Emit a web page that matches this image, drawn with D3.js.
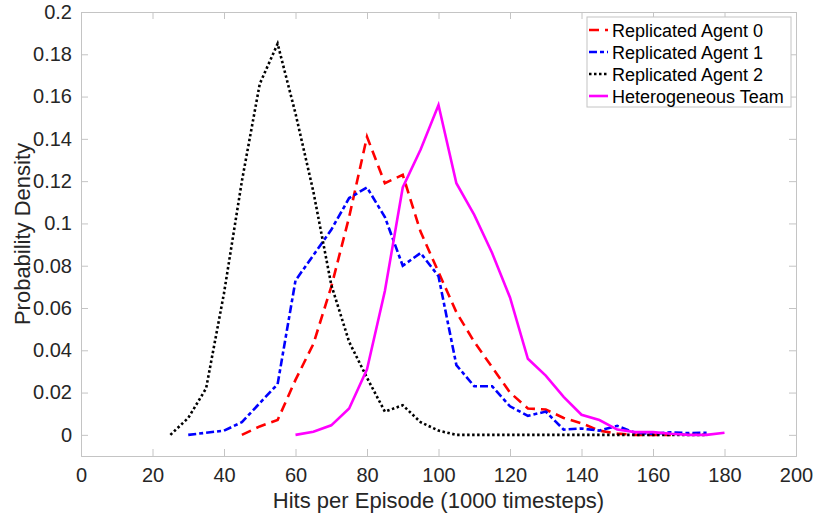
<!DOCTYPE html>
<html lang="en">
<head>
<meta charset="UTF-8">
<title>Hits per Episode</title>
<script src="https://d3js.org/d3.v7.min.js"></script>
<style>
    body { margin: 0; background: #fff; font-family: "Liberation Sans", Arial, sans-serif; }
    .line { fill: none; stroke-width: 2.6px; stroke-linejoin: miter; }
</style>
</head>
<body>
<div id="chart"></div>
<script>
// Hits per episode (x) and probability density (y) for each run
const agent0X = [45, 50, 55, 60, 65, 70, 75, 80, 85, 90, 95, 100, 105, 110, 115, 120, 125, 130, 135, 140, 145, 150, 155, 160, 165];
const agent0Y = [0, 0.004, 0.007, 0.026, 0.043, 0.07, 0.103, 0.141, 0.119, 0.123, 0.096, 0.077, 0.058, 0.044, 0.032, 0.02, 0.0125, 0.012, 0.008, 0.0055, 0.002, 0.0006, 0, 0, 0];

const agent1X = [30, 35, 40, 45, 50, 55, 60, 65, 70, 75, 80, 85, 90, 95, 100, 105, 110, 115, 120, 125, 130, 135, 140, 145, 150, 155, 160, 165, 170, 175];
const agent1Y = [0, 0.001, 0.002, 0.006, 0.015, 0.024, 0.073, 0.085, 0.097, 0.112, 0.117, 0.103, 0.08, 0.086, 0.075, 0.033, 0.023, 0.023, 0.0135, 0.009, 0.011, 0.0025, 0.003, 0.002, 0.0043, 0.001, 0.0005, 0.0012, 0.0008, 0.001];

const agent2X = [25, 30, 35, 40, 45, 50, 55, 60, 65, 70, 75, 80, 85, 90, 95, 100, 105, 110, 115, 120, 125, 130, 135, 140, 145, 150, 155, 160, 165, 170, 175];
const agent2Y = [0, 0.008, 0.022, 0.067, 0.12, 0.166, 0.185, 0.152, 0.115, 0.071, 0.044, 0.027, 0.011, 0.014, 0.006, 0.002, 0, 0, 0, 0, 0, 0, 0, 0, 0, 0, 0, 0, 0, 0, 0];

const teamX = [60, 65, 70, 75, 80, 85, 90, 95, 100, 105, 110, 115, 120, 125, 130, 135, 140, 145, 150, 155, 160, 165, 170, 175, 180];
const teamY = [0, 0.0015, 0.0045, 0.0125, 0.031, 0.068, 0.117, 0.135, 0.156, 0.119, 0.104, 0.086, 0.065, 0.036, 0.028, 0.018, 0.0095, 0.007, 0.0025, 0.0013, 0.0013, 0.0005, 0, 0, 0.001];

const seriesNames = ["Replicated Agent 0", "Replicated Agent 1", "Replicated Agent 2", "Heterogeneous Team"];
const xTicks = [0, 20, 40, 60, 80, 100, 120, 140, 160, 180, 200];
const yTicks = [0, 0.02, 0.04, 0.06, 0.08, 0.1, 0.12, 0.14, 0.16, 0.18, 0.2];

// Set dimensions
const W = 817, H = 520;
const margin = { top: 12, right: 21, bottom: 64, left: 81 },
      width = W - margin.left - margin.right,
      height = H - margin.top - margin.bottom;

const svg = d3.select("#chart")
    .append("svg")
    .attr("width", W)
    .attr("height", H);

const g = svg.append("g")
    .attr("transform", `translate(${margin.left},${margin.top})`);

// Scales
const x = d3.scaleLinear().domain([0, 200]).range([0, width]);
const y = d3.scaleLinear().domain([-0.01, 0.2]).range([height, 0]);

const axisColor = "#c4c4c4";
const textColor = "#262626";
const tickLen = 7;

// Axes (ticks pointing inward, box on all sides)
const xAxis = g.append("g")
    .attr("transform", `translate(0,${height})`)
    .call(d3.axisBottom(x).tickValues(xTicks).tickSize(-tickLen).tickPadding(12).tickFormat(d3.format("d")));
const xAxisTop = g.append("g")
    .call(d3.axisTop(x).tickValues(xTicks).tickSize(-tickLen).tickFormat(""));
const yAxis = g.append("g")
    .call(d3.axisLeft(y).tickValues(yTicks).tickSize(-tickLen).tickPadding(9).tickFormat(d => d3.format("")(+d.toFixed(2))));
const yAxisRight = g.append("g")
    .attr("transform", `translate(${width},0)`)
    .call(d3.axisRight(y).tickValues(yTicks).tickSize(-tickLen).tickFormat(""));

[xAxis, xAxisTop, yAxis, yAxisRight].forEach(a => {
    a.select(".domain").attr("stroke", axisColor).attr("stroke-width", 1);
    a.selectAll(".tick line").attr("stroke", axisColor);
    a.selectAll(".tick text")
        .attr("fill", textColor)
        .style("font-family", "'Liberation Sans', Arial, sans-serif")
        .style("font-size", "20px");
});

// Lines
const line = d3.line()
    .x(d => x(d[0]))
    .y(d => y(d[1]));

const series = [
    { name: seriesNames[0], xs: agent0X, ys: agent0Y, color: "#ff0000", dash: "10,6" },
    { name: seriesNames[1], xs: agent1X, ys: agent1Y, color: "#0000ff", dash: "8,3,4,3" },
    { name: seriesNames[2], xs: agent2X, ys: agent2Y, color: "#000000", dash: "2.5,2.5" },
    { name: seriesNames[3], xs: teamX, ys: teamY, color: "#ff00ff", dash: null }
];

series.forEach(s => {
    g.append("path")
        .datum(s.xs.map((v, i) => [v, s.ys[i]]))
        .attr("class", "line")
        .attr("stroke", s.color)
        .attr("stroke-dasharray", s.dash)
        .attr("d", line);
});

// Axis labels
svg.append("text")
    .attr("x", margin.left + width / 2)
    .attr("y", 508)
    .attr("text-anchor", "middle")
    .attr("fill", textColor)
    .style("font-size", "22px")
    .text("Hits per Episode (1000 timesteps)");

svg.append("text")
    .attr("transform", "rotate(-90)")
    .attr("x", -(margin.top + height / 2))
    .attr("y", 30)
    .attr("text-anchor", "middle")
    .attr("fill", textColor)
    .style("font-size", "22px")
    .text("Probability Density");

// Legend
const legend = svg.append("g").attr("transform", "translate(587,17)");
legend.append("rect")
    .attr("width", 204)
    .attr("height", 90)
    .attr("fill", "#fff")
    .attr("stroke", axisColor);

series.forEach((s, i) => {
    const cy = 13 + i * 22;
    legend.append("line")
        .attr("x1", 2).attr("x2", 21)
        .attr("y1", cy).attr("y2", cy)
        .attr("stroke", s.color)
        .attr("stroke-width", 2.6)
        .attr("stroke-dasharray", s.dash);
    legend.append("text")
        .attr("x", 25)
        .attr("y", cy + 6.5)
        .attr("fill", "#000")
        .style("font-size", "18px")
        .text(s.name);
});
</script>
</body>
</html>
